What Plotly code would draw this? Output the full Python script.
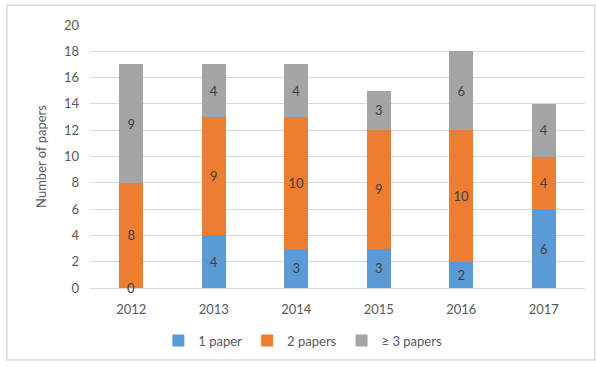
import plotly.graph_objects as go

years = ["2012", "2013", "2014", "2015", "2016", "2017"]
one_paper = [0, 4, 3, 3, 2, 6]
two_papers = [8, 9, 10, 9, 10, 4]
three_plus = [9, 4, 4, 3, 6, 4]

series = [
    ("1 paper", one_paper, "#5B9BD5"),
    ("2 papers", two_papers, "#ED7D31"),
    ("\u2265 3 papers", three_plus, "#A5A5A5"),
]

FONT = "Lato, 'Open Sans', sans-serif"
fig = go.Figure()
annotations = []
for name, vals, color in series:
    fig.add_trace(go.Bar(
        x=years, y=vals, name=name,
        marker=dict(color=color, line=dict(width=0)),
        text=[str(v) for v in vals],
        textposition=["inside" if v > 0 else "none" for v in vals],
        insidetextanchor="middle",
        textfont=dict(color="#404040", size=13, family=FONT),
        constraintext="none",
    ))
    # zero-height segments still carry their label at the baseline
    for i, v in enumerate(vals):
        if v == 0:
            annotations.append(dict(
                x=i, y=v, text=str(v), showarrow=False,
                font=dict(color="#404040", size=13, family=FONT),
                xref="x", yref="y", yanchor="middle",
            ))

fig.update_layout(
    barmode="stack",
    bargap=0.71,
    width=596, height=367,
    margin=dict(l=90, r=11, t=25, b=76),
    paper_bgcolor="white",
    plot_bgcolor="white",
    font=dict(family=FONT, color="#595959", size=13),
    annotations=annotations,
    legend=dict(
        orientation="h", x=0.43, xanchor="center", y=-0.2, yanchor="middle",
        font=dict(size=13, color="#595959"),
        traceorder="normal",
    ),
    shapes=[dict(
        type="rect", xref="paper", yref="paper",
        x0=-0.1677, x1=1.02, y0=-0.274, y1=1.075,
        line=dict(color="#D9D9D9", width=1.5), layer="below",
    )],
)
fig.update_xaxes(
    type="category", range=[-0.5, len(years) - 0.5],
    showgrid=False, showline=True, linecolor="#D9D9D9", linewidth=1,
    ticks="", ticklabelstandoff=9, tickfont=dict(size=13, color="#595959"),
)
fig.update_yaxes(
    range=[0, 20], dtick=2, showgrid=True, gridcolor="#D9D9D9", gridwidth=1,
    zeroline=False, ticks="", ticklabelstandoff=10,
    tickfont=dict(size=13, color="#595959"),
    title=dict(text="Number of papers", font=dict(size=13, color="#595959"), standoff=14),
)

fig.write_html("out.html")
